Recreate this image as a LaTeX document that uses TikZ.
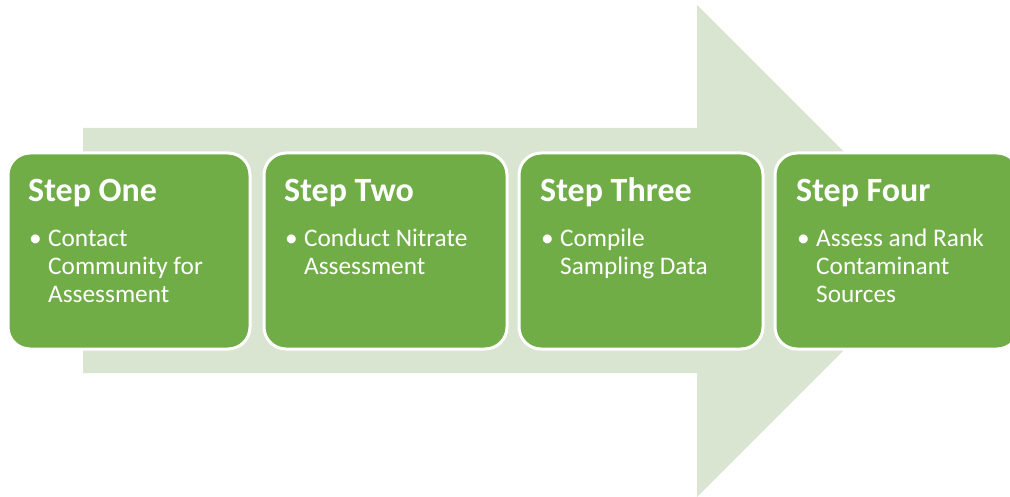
\documentclass[tikz,border=0pt]{standalone}
\usepackage{fontspec}
\setmainfont{Carlito}
\definecolor{arrowgreen}{HTML}{D9E4D1}
\definecolor{boxgreen}{HTML}{70AD47}
\tikzset{
  stepbox/.style={draw=white, line width=3pt, fill=boxgreen, rounded corners=22pt},
  steptitle/.style={anchor=base west, inner sep=0pt, text=white, font=\fontsize{34}{38}\selectfont\bfseries},
  stepbody/.style={anchor=base west, inner sep=0pt, text=white, text width=200pt, align=flush left, font=\fontsize{25.3}{28}\selectfont}
}
\newcommand{\mybul}{\llap{\makebox[19pt][l]{•}}}
\begin{document}
\begin{tikzpicture}[x=1pt,y=-1pt]
\useasboundingbox (0,0) rectangle (1010,497);
\clip (0,0) rectangle (1010,497);
\fill[arrowgreen] (83,128) -- (697,128) -- (697,5) -- (943,251) -- (697,497) -- (697,373) -- (83,373) -- cycle;
\draw[stepbox] (8,153) rectangle (250,349);
\draw[stepbox] (264,153) rectangle (507,349);
\draw[stepbox] (519,153) rectangle (763,349);
\draw[stepbox] (775,153) rectangle (1019,349);
\node[steptitle] (t1) at (28,202) {Step One};
\node[steptitle] (t2) at (284,202) {Step Two};
\node[steptitle] (t3) at (540,202) {Step Three};
\node[steptitle] (t4) at (796,202) {Step Four};
\node[stepbody] (b1) at (48,247) {\mybul Contact\\Community for\\Assessment};
\node[stepbody] (b2) at (304,247) {\mybul Conduct Nitrate\\Assessment};
\node[stepbody] (b3) at (560,247) {\mybul Compile\\Sampling Data};
\node[stepbody] (b4) at (816,247) {\mybul Assess and Rank\\Contaminant\\Sources};
\end{tikzpicture}
\end{document}
